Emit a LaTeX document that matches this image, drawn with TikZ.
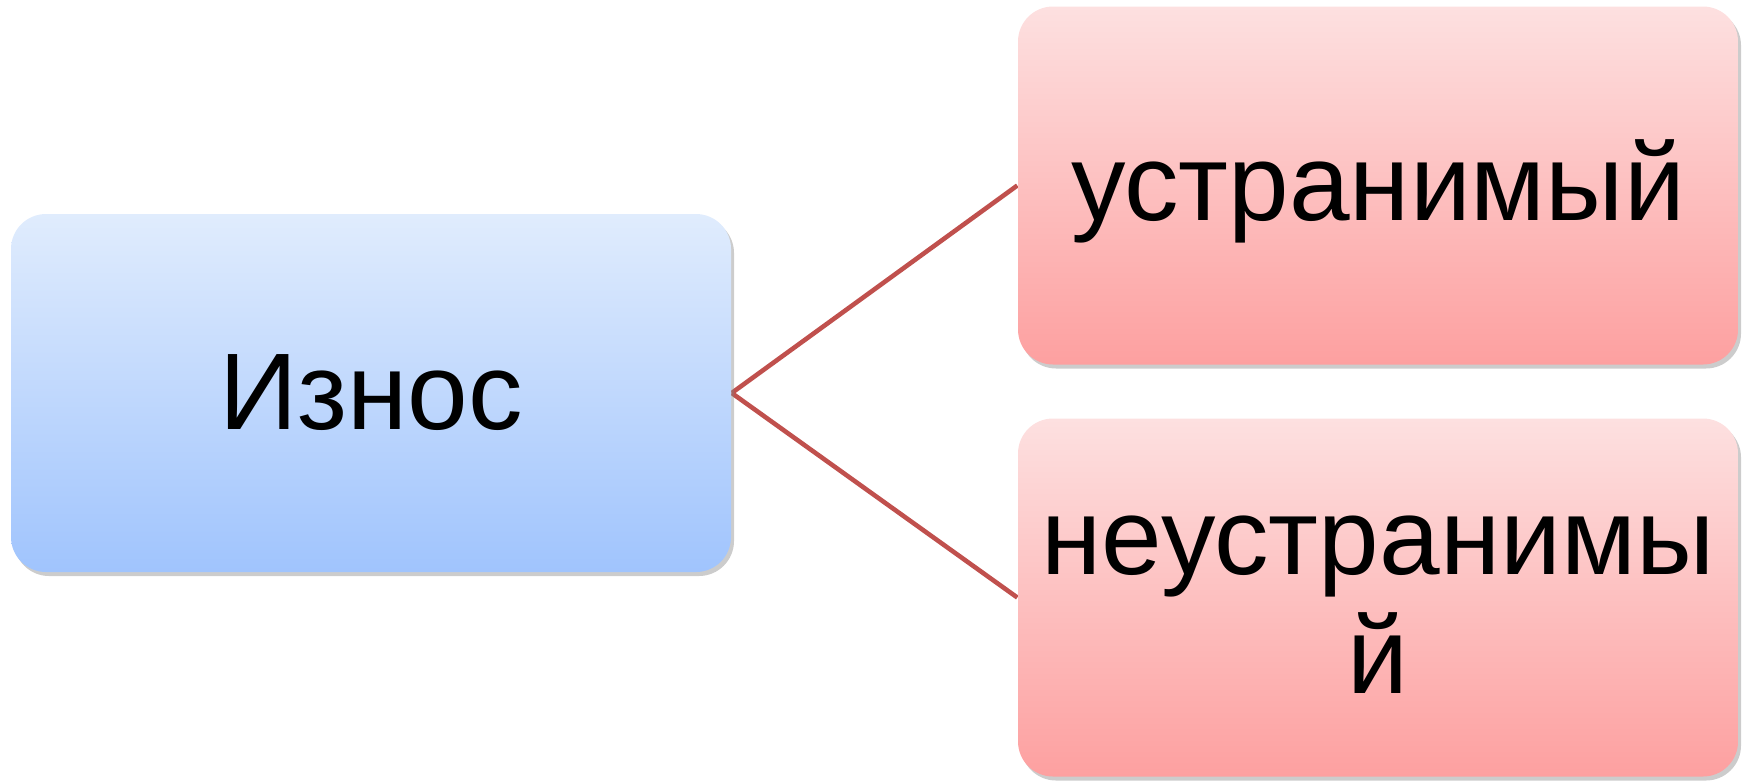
\documentclass[tikz,border=0pt]{standalone}
\usepackage{fontspec}
\setmainfont{Liberation Sans}
\usepackage{tikz}
\usetikzlibrary{shadows}
\pgfdeclarelayer{background}
\pgfdeclarelayer{foreground}
\pgfsetlayers{background,main,foreground}
\definecolor{bluetop}{RGB}{224,236,253}
\definecolor{bluebot}{RGB}{160,196,253}
\definecolor{redtop}{RGB}{253,224,224}
\definecolor{redbot}{RGB}{253,160,160}
\definecolor{linkred}{RGB}{192,80,77}
\tikzset{
  box/.style={rounded corners=0.35cm, minimum width=7.2cm, minimum height=3.58cm,
    align=center, inner sep=0pt, font=\fontsize{31}{34}\selectfont,
    drop shadow={shadow xshift=0.03cm, shadow yshift=-0.04cm, opacity=0.4}},
  bluebox/.style={box, top color=bluetop, bottom color=bluebot},
  redbox/.style={box, top color=redtop, bottom color=redbot},
  link/.style={draw=linkred, line width=1.3pt}
}

\begin{document}
\begin{tikzpicture}
\useasboundingbox (0,0) rectangle (17.47,7.81);
\begin{pgfonlayer}{foreground}
\node[bluebox] (wear) at (3.71,3.88) {Износ};
\node[redbox, text depth=0.11cm] (fix) at (13.78,5.955) {устранимый};
\node[redbox] (nofix) at (13.78,1.835) {\rule{0pt}{0.73cm}неустранимы\\й};
\end{pgfonlayer}
\begin{pgfonlayer}{background}
\draw[link] (wear.east) -- (fix.west);
\draw[link] (wear.east) -- (nofix.west);
\end{pgfonlayer}
\end{tikzpicture}
\end{document}
